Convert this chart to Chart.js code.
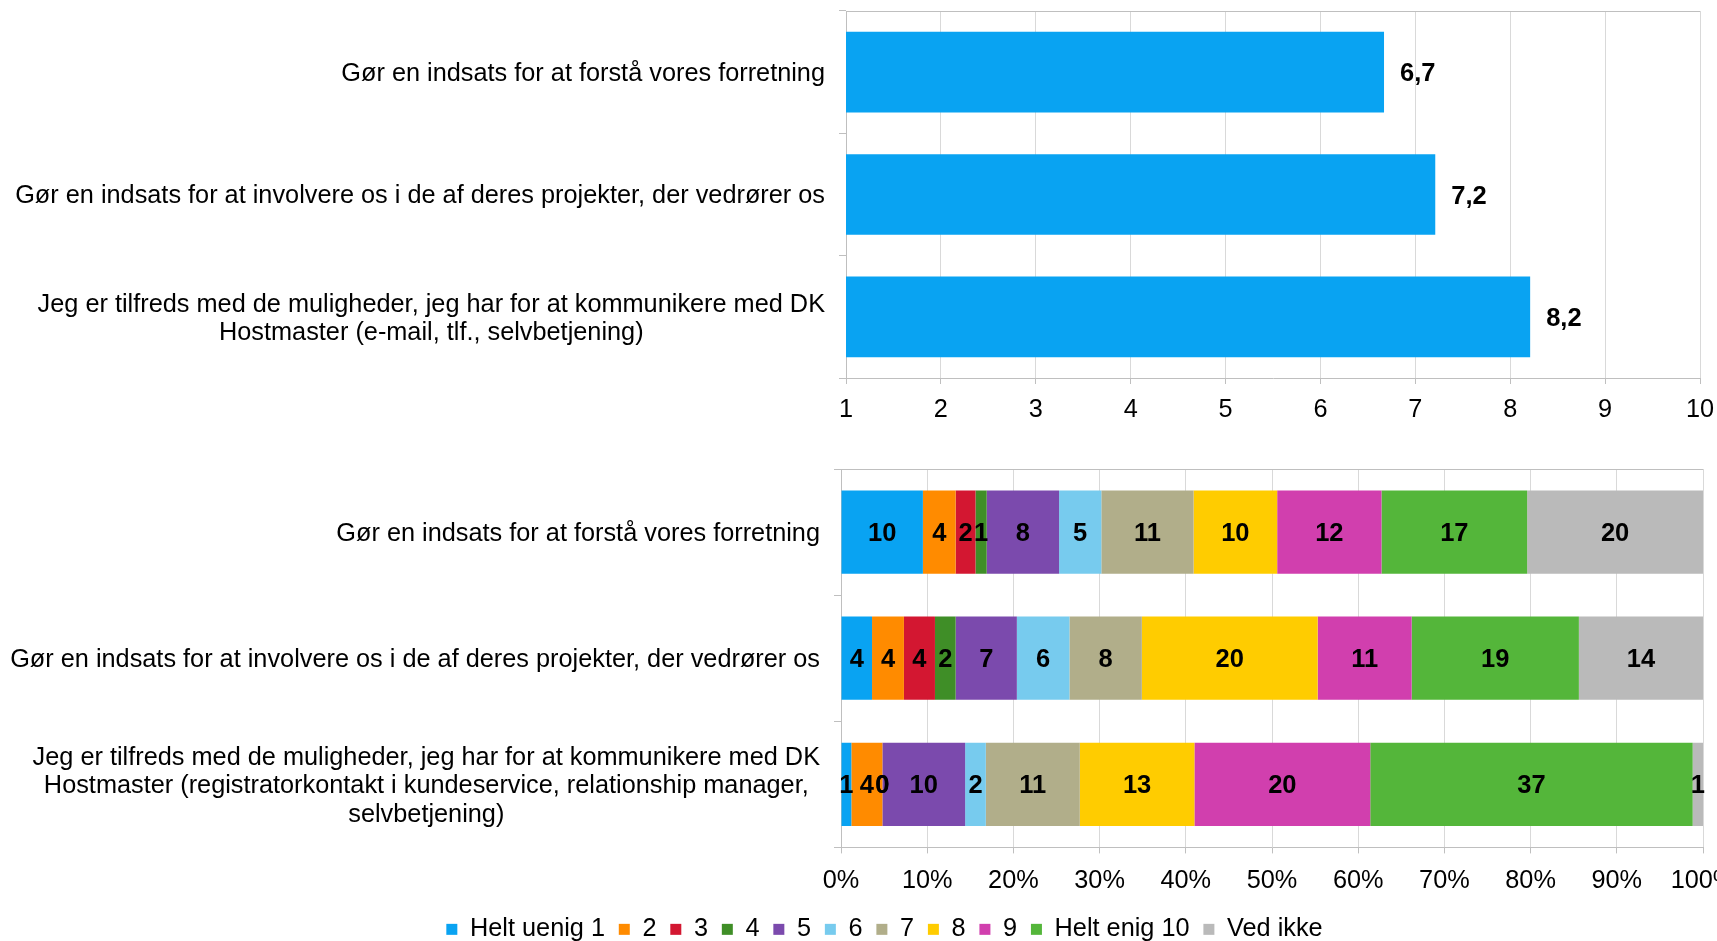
<!DOCTYPE html>
<html>
<head>
<meta charset="utf-8">
<script src="https://cdn.jsdelivr.net/npm/chart.js@4.4.1/dist/chart.umd.min.js"></script>
<style>
  html, body { margin: 0; padding: 0; background: #fff; overflow: hidden; width: 1717px; height: 941px; }
  #scoreChart { position: absolute; left: 0; top: 0; }
  #spreadChart { position: absolute; left: 0; top: 450px; }
</style>
</head>
<body>
<canvas id="scoreChart" width="1768" height="430"></canvas>
<canvas id="spreadChart" width="1768" height="502"></canvas>
<script>
// ---- data ----
const scoreLabels = [
  'Gør en indsats for at forstå vores forretning',
  'Gør en indsats for at involvere os i de af deres projekter, der vedrører os',
  ['Jeg er tilfreds med de muligheder, jeg har for at kommunikere med DK', 'Hostmaster (e-mail, tlf., selvbetjening)']
];
const scoreValues = [6.67, 7.21, 8.21];
const scoreTicks = ['1', '2', '3', '4', '5', '6', '7', '8', '9', '10'];

const spreadLabels = [
  'Gør en indsats for at forstå vores forretning',
  'Gør en indsats for at involvere os i de af deres projekter, der vedrører os',
  ['Jeg er tilfreds med de muligheder, jeg har for at kommunikere med DK',
   'Hostmaster (registratorkontakt i kundeservice, relationship manager,',
   'selvbetjening)']
];
const answerLabels = ['Helt uenig 1', '2', '3', '4', '5', '6', '7', '8', '9', 'Helt enig 10', 'Ved ikke'];
const resp1 = [9.5, 3.6, 1.2];
const resp2 = [3.8, 3.7, 3.6];
const resp3 = [2.3, 3.6, 0];
const resp4 = [1.3, 2.4, 0];
const resp5 = [8.4, 7.1, 9.6];
const resp6 = [4.9, 6.1, 2.4];
const resp7 = [10.7, 8.4, 10.9];
const resp8 = [9.7, 20.4, 13.3];
const resp9 = [12.1, 10.9, 20.4];
const resp10 = [16.9, 19.4, 37.4];
const respVedIkke = [20.4, 14.4, 1.2];
const pctTicks = ['0%', '10%', '20%', '30%', '40%', '50%', '60%', '70%', '80%', '90%', '100%'];

const answerColors = ['#09A3F2', '#FF8B00', '#D31731', '#3F8E27', '#7B4AAD', '#77CBEE',
                      '#B1AE8A', '#FFCC00', '#D13FAE', '#54B63A', '#BABABA'];

// ---- look ----
const FONT = "'Liberation Sans', Arial, sans-serif";
const GRID = '#D9D9D9';
const AXIS = '#BFBFBF';
Chart.defaults.font.family = FONT;
Chart.defaults.font.size = 25.3;
Chart.defaults.color = '#000';

// draws category text right-aligned as a block, lines centred inside it
const categoryText = {
  id: 'categoryText',
  afterDraw(chart, args, opts) {
    const ctx = chart.ctx;
    const yScale = chart.scales.y;
    ctx.save();
    ctx.font = '25.3px ' + FONT;
    ctx.fillStyle = '#000';
    ctx.textAlign = 'center';
    ctx.textBaseline = 'middle';
    chart.data.labels.forEach((lab, i) => {
      const lines = Array.isArray(lab) ? lab : [lab];
      const cy = yScale.getPixelForTick(i) + 2;
      const w = Math.max(...lines.map(l => ctx.measureText(l).width));
      const cx = chart.chartArea.left - opts.gap - w / 2;
      lines.forEach((l, k) => {
        ctx.fillText(l, cx, cy + (k - (lines.length - 1) / 2) * opts.lineHeight);
      });
    });
    ctx.restore();
  }
};

// bold value labels: at bar end (score) or in segment centre (spread)
const valueLabels = {
  id: 'valueLabels',
  afterDatasetsDraw(chart, args, opts) {
    const ctx = chart.ctx;
    ctx.save();
    ctx.font = 'bold 25.5px ' + FONT;
    ctx.fillStyle = '#000';
    ctx.textBaseline = 'middle';
    chart.data.datasets.forEach((ds, di) => {
      chart.getDatasetMeta(di).data.forEach((bar, i) => {
        const v = ds.data[i];
        if (opts.mode === 'end') {
          ctx.textAlign = 'left';
          ctx.fillText(v.toFixed(1).replace('.', ','), bar.x + 16, bar.y + 2);
        } else {
          ctx.textAlign = 'center';
          ctx.fillText(String(Math.round(v)), (bar.x + bar.base) / 2, bar.y + 2);
        }
      });
    });
    ctx.restore();
  }
};

// top edge of the plot frame
const plotTop = {
  id: 'plotTop',
  beforeDatasetsDraw(chart) {
    const {ctx, chartArea} = chart;
    ctx.save();
    ctx.strokeStyle = AXIS;
    ctx.lineWidth = 1;
    ctx.beginPath();
    ctx.moveTo(chartArea.left, chartArea.top + 0.5);
    ctx.lineTo(chartArea.right, chartArea.top + 0.5);
    ctx.stroke();
    ctx.restore();
  }
};

new Chart(document.getElementById('scoreChart'), {
  type: 'bar',
  data: {
    labels: scoreLabels,
    datasets: [{
      data: scoreValues,
      backgroundColor: answerColors[0],
      barPercentage: 0.66,
      categoryPercentage: 1.0
    }]
  },
  options: {
    indexAxis: 'y',
    responsive: false,
    animation: false,
    layout: { padding: { top: 11, right: 68, left: 0, bottom: 0 } },
    plugins: {
      legend: { display: false },
      tooltip: { enabled: false },
      categoryText: { gap: 21, lineHeight: 28.5 },
      valueLabels: { mode: 'end' }
    },
    scales: {
      x: {
        min: 1, max: 10,
        ticks: { stepSize: 1, padding: 11, callback: (v, i) => scoreTicks[i] },
        grid: { color: GRID, tickLength: 6, tickColor: AXIS },
        border: { color: AXIS },
        afterFit: s => { s.height = 52; }
      },
      y: {
        ticks: { display: false },
        grid: { drawOnChartArea: false, tickLength: 7, color: AXIS },
        border: { color: AXIS },
        afterFit: s => { s.width = 846; }
      }
    }
  },
  plugins: [categoryText, valueLabels, plotTop]
});

const respSeries = [resp1, resp2, resp3, resp4, resp5, resp6, resp7, resp8, resp9, resp10, respVedIkke];

new Chart(document.getElementById('spreadChart'), {
  type: 'bar',
  data: {
    labels: spreadLabels,
    datasets: respSeries.map((vals, k) => ({
      label: answerLabels[k],
      data: vals,
      backgroundColor: answerColors[k],
      barPercentage: 0.66,
      categoryPercentage: 1.0
    }))
  },
  options: {
    indexAxis: 'y',
    responsive: false,
    animation: false,
    // left padding only shifts the centred legend; the y axis is narrowed to match
    layout: { padding: { top: 19, right: 65, left: 66, bottom: 0 } },
    plugins: {
      legend: {
        position: 'bottom',
        labels: { boxWidth: 11, boxHeight: 11, padding: 13.8, color: '#000', font: { size: 25.3 } }
      },
      tooltip: { enabled: false },
      categoryText: { gap: 21, lineHeight: 28.5 },
      valueLabels: { mode: 'center' }
    },
    scales: {
      x: {
        stacked: true,
        min: 0, max: 100,
        ticks: { stepSize: 10, padding: 12, callback: (v, i) => pctTicks[i] },
        grid: { color: GRID, tickLength: 6, tickColor: AXIS },
        border: { color: AXIS },
        afterFit: s => { s.height = 55.5; }
      },
      y: {
        stacked: true,
        ticks: { display: false },
        grid: { drawOnChartArea: false, tickLength: 7, color: AXIS },
        border: { color: AXIS },
        afterFit: s => { s.width = 775; }
      }
    }
  },
  plugins: [categoryText, valueLabels, plotTop]
});
</script>
</body>
</html>
